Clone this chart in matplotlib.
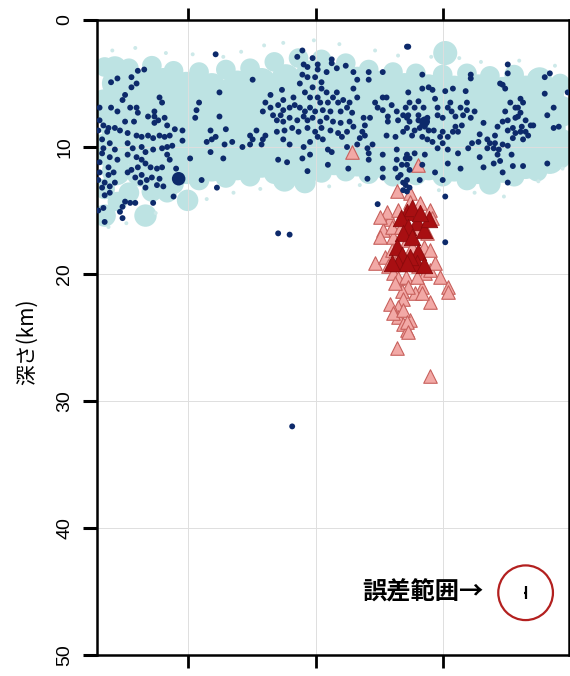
import matplotlib.pyplot as plt
import numpy as np

# hypocentres (x: distance along profile [km], depth [km])
west = np.array([
    (9.3, 2.7), (12.2, 4.7), (3.7, 3.9), (3.2, 4.0), (2.7, 4.5), (3.1, 5.0), (2.7, 5.3),
    (1.6, 4.6), (1.1, 4.9), (2.2, 5.9), (2.0, 6.3), (4.9, 6.1), (5.1, 6.5), (8.0, 6.5),
    (9.6, 5.7), (0.2, 6.9), (1.1, 6.9), (1.6, 7.2), (2.6, 6.9), (3.1, 6.9), (3.2, 7.3),
    (4.5, 7.2), (4.5, 7.6), (4.8, 7.9), (5.3, 7.7), (7.8, 7.1), (7.7, 7.7), (9.6, 7.6),
    (0.2, 7.9), (0.5, 8.3), (0.9, 8.5), (2.2, 8.0), (2.9, 8.0), (4.0, 7.6), (4.5, 8.1),
    (5.5, 8.3), (0.1, 8.7), (0.8, 8.8), (1.4, 8.5), (1.8, 8.7), (2.4, 8.9), (3.1, 9.1),
    (3.5, 9.2), (4.0, 9.1), (4.4, 9.3), (4.9, 9.1), (5.3, 9.2), (5.7, 9.1), (6.1, 8.6),
    (6.7, 8.7), (6.7, 9.5), (8.9, 8.7), (9.3, 9.2), (10.1, 8.6), (10.6, 9.6), (10.0, 9.8),
    (12.0, 9.1), (12.0, 9.8), (11.4, 10.0), (9.0, 9.4), (8.6, 9.6), (0.4, 9.4), (1.0, 9.7),
    (0.5, 10.1), (1.4, 10.2), (2.4, 9.7), (2.8, 10.1), (3.5, 10.0), (3.8, 10.4), (4.4, 10.2),
    (5.1, 10.1), (5.5, 10.0), (5.9, 9.9), (5.5, 10.6), (5.7, 11.0), (0.4, 10.5), (1.0, 10.8),
    (1.6, 11.0), (0.2, 11.2), (0.9, 11.6), (2.4, 10.6), (3.1, 10.8), (3.5, 11.0), (3.8, 11.3),
    (4.2, 11.6), (3.2, 11.6), (2.7, 11.8), (4.7, 11.7), (5.1, 11.6), (7.3, 10.9), (8.9, 10.4),
    (9.9, 10.9), (6.2, 11.7), (0.2, 12.0), (0.9, 12.2), (1.3, 12.0), (0.1, 12.6), (0.6, 12.8),
    (1.4, 12.8), (0.4, 13.2), (1.0, 13.1), (2.4, 12.0), (3.0, 12.4), (3.5, 12.2), (3.9, 12.6),
    (4.3, 12.4), (3.4, 12.8), (3.8, 13.2), (4.7, 13.0), (5.2, 13.1), (4.9, 12.5), (8.2, 12.6),
    (9.4, 13.2), (6.0, 13.9), (0.6, 13.8), (1.0, 13.6), (2.2, 14.3), (2.6, 14.4), (3.0, 14.4),
    (4.4, 14.4), (2.0, 14.7), (0.1, 15.0), (0.5, 14.8), (1.8, 15.1), (0.6, 15.9), (2.0, 15.6),
])

central = np.array([
    (16.1, 2.4), (15.7, 2.9), (16.9, 3.0), (18.4, 3.1), (18.4, 3.4), (16.2, 3.5), (16.5, 3.7),
    (17.3, 3.5), (17.3, 3.9), (18.0, 4.1), (18.8, 3.8), (19.5, 3.6), (20.1, 4.1), (21.3, 4.1),
    (22.4, 4.1), (24.3, 2.1), (16.1, 4.3), (16.5, 4.5), (17.1, 4.5), (17.6, 4.9), (15.9, 5.0),
    (16.9, 5.3), (17.6, 5.4), (18.0, 5.7), (20.4, 4.7), (21.3, 4.7), (20.1, 5.4), (20.4, 6.1),
    (18.8, 5.7), (13.6, 5.9), (14.5, 5.5), (14.6, 6.3), (15.4, 6.1), (16.3, 5.7), (16.7, 6.1),
    (17.3, 6.1), (17.5, 6.5), (18.1, 6.5), (18.5, 6.1), (18.9, 6.5), (19.3, 6.3), (19.8, 6.5),
    (19.6, 6.9), (21.8, 6.5), (22.4, 6.1), (22.7, 6.1), (22.0, 6.9), (22.4, 7.1), (23.1, 6.7),
    (22.8, 7.6), (23.5, 7.2), (24.2, 6.9), (24.0, 7.5), (13.2, 6.5), (13.6, 6.9), (13.0, 7.2),
    (13.8, 7.5), (14.2, 6.7), (14.6, 7.1), (14.4, 7.5), (15.1, 6.9), (15.5, 6.7), (15.9, 6.9),
    (16.3, 7.2), (16.7, 6.9), (17.1, 7.2), (17.7, 7.1), (18.3, 7.2), (19.1, 7.2), (20.0, 7.3),
    (20.9, 7.7), (21.4, 7.7), (14.1, 7.9), (14.6, 8.0), (15.1, 7.7), (15.7, 7.9), (16.2, 7.6),
    (16.5, 7.9), (16.9, 7.7), (17.5, 8.0), (18.0, 7.7), (18.5, 8.0), (19.1, 8.1), (19.8, 8.0),
    (20.1, 8.4), (21.0, 8.3), (22.8, 8.0), (23.6, 7.9), (24.3, 7.7), (12.5, 8.7), (13.2, 9.1),
    (14.1, 8.8), (14.7, 8.7), (15.3, 8.5), (15.8, 8.8), (16.5, 8.5), (17.1, 8.8), (17.6, 8.5),
    (18.3, 8.7), (18.9, 8.9), (19.6, 8.8), (19.2, 9.2), (20.6, 9.3), (21.0, 9.1), (22.7, 9.1),
    (23.4, 9.2), (24.0, 8.8), (12.2, 9.4), (13.0, 9.4), (12.9, 9.8), (14.6, 9.4), (15.1, 9.8),
    (16.2, 10.0), (16.7, 9.6), (17.3, 9.2), (17.7, 9.4), (18.1, 10.2), (18.4, 10.4), (19.6, 10.0),
    (20.4, 9.8), (21.2, 10.1), (23.5, 10.2), (16.1, 10.9), (16.7, 10.6), (18.1, 11.4), (19.7, 11.7),
    (21.3, 10.5), (21.3, 11.0), (14.2, 11.0), (14.9, 11.2), (16.5, 11.9), (21.2, 12.5), (22.4, 11.7),
    (22.4, 12.4), (23.5, 11.0), (23.9, 11.4), (24.2, 10.9), (23.6, 12.4), (24.0, 12.8), (22.0, 14.5),
    (24.3, 12.6), (24.2, 13.0), (24.3, 13.5), (24.0, 13.4), (24.5, 13.2), (23.8, 12.2), (24.5, 11.8),
    (23.4, 11.7), (20.8, 8.8), (21.6, 9.8), (22.4, 10.6),
])

east = np.array([
    (24.4, 2.1), (32.2, 3.5), (32.2, 4.2), (29.3, 4.3), (29.3, 4.6), (35.1, 4.5), (35.5, 4.2),
    (25.5, 4.3), (31.6, 5.0), (31.8, 5.1), (32.0, 5.4), (26.0, 5.3), (25.5, 5.4), (26.3, 5.5),
    (27.3, 5.6), (27.9, 5.4), (28.9, 5.6), (24.4, 5.7), (36.9, 5.7), (35.1, 5.8), (26.5, 6.2),
    (27.7, 6.5), (29.0, 6.5), (33.2, 6.2), (33.4, 6.5), (32.4, 6.5), (35.8, 6.9), (24.5, 6.5),
    (25.2, 6.4), (24.9, 6.9), (25.6, 6.9), (26.7, 6.9), (27.5, 6.9), (27.8, 7.2), (28.5, 6.9),
    (29.0, 7.1), (29.6, 7.2), (32.0, 7.2), (32.8, 6.9), (33.0, 6.9), (33.2, 7.3), (35.3, 7.5),
    (24.4, 7.5), (24.5, 8.0), (25.2, 7.9), (26.7, 7.5), (27.1, 7.7), (28.1, 7.6), (28.7, 7.5),
    (29.3, 7.7), (30.3, 8.1), (31.4, 8.4), (31.8, 8.0), (32.2, 7.9), (32.8, 7.7), (33.0, 7.6),
    (33.6, 7.9), (34.0, 8.3), (34.2, 8.3), (32.6, 8.5), (33.3, 8.4), (35.8, 8.5), (36.2, 8.4),
    (24.3, 8.5), (24.9, 8.7), (25.7, 8.4), (26.4, 8.7), (27.1, 8.8), (28.1, 8.4), (28.6, 8.3),
    (27.5, 9.2), (27.9, 8.8), (28.3, 8.8), (30.0, 9.0), (31.2, 9.1), (32.2, 8.7), (32.8, 8.9),
    (33.2, 8.8), (33.6, 8.8), (33.8, 9.1), (32.6, 9.3), (33.4, 9.4), (24.7, 9.1), (25.5, 9.2),
    (25.9, 9.4), (26.3, 9.6), (26.7, 10.1), (27.1, 9.7), (27.5, 10.2), (26.9, 9.2), (29.4, 9.7),
    (29.9, 9.6), (30.6, 9.4), (30.8, 9.7), (31.2, 9.7), (31.8, 9.8), (32.2, 9.9), (30.6, 10.1),
    (31.1, 10.1), (31.5, 10.2), (29.1, 10.1), (31.4, 10.6), (24.3, 10.6), (24.9, 10.5), (24.5, 10.9),
    (25.7, 10.6), (28.3, 10.5), (30.0, 10.8), (32.5, 10.6), (24.3, 11.4), (25.5, 11.4), (27.5, 11.3),
    (28.5, 11.7), (30.3, 11.6), (31.1, 11.3), (31.6, 11.1), (32.6, 11.5), (33.4, 11.5), (35.3, 11.3),
    (31.8, 12.0), (32.2, 12.8), (26.5, 12.0), (27.1, 12.6), (25.3, 12.6), (27.3, 13.9),
    (25.2, 7.5), (26.0, 8.7), (25.3, 8.5), (25.9, 7.7), (25.5, 8.2),
])

# scattered deeper events
deep = np.array([(14.2, 16.8), (15.1, 16.9), (15.3, 32.0), (27.3, 17.5)])

# larger events plotted with bigger dots
big_x = [6.4, 25.7]
big_d = [12.5, 8.0]
big_s = [95, 55]

# triangles: lower-crust events (light) and the main swarm (dark)
tri_light = np.array([
    (20.0, 10.4), (25.2, 11.4), (23.5, 13.5), (24.5, 13.6), (26.1, 15.0), (23.0, 15.7),
    (22.4, 16.5), (22.2, 17.1), (26.3, 15.6), (21.8, 19.1), (22.6, 18.7), (23.1, 18.1),
    (22.8, 19.4), (23.2, 19.9), (23.6, 20.3), (24.2, 20.2), (25.2, 19.4), (25.7, 19.9),
    (26.1, 19.7), (26.5, 19.1), (26.9, 20.2), (27.5, 21.0), (25.5, 21.0), (26.1, 22.2),
    (24.9, 21.5), (24.4, 21.0), (23.9, 21.3), (23.4, 20.7), (24.0, 22.0), (23.6, 22.6),
    (23.6, 23.4), (24.0, 23.9), (24.5, 23.6), (24.3, 24.4), (23.5, 25.8), (25.6, 17.9),
    (25.9, 16.8), (25.2, 16.5), (26.1, 18.1), (23.2, 17.1), (23.1, 16.3), (22.7, 15.1),
    (23.6, 15.0), (24.5, 14.3), (25.3, 14.4), (22.2, 15.5), (23.8, 16.3), (24.3, 17.3),
    (24.7, 17.9), (23.8, 18.3), (23.8, 19.1), (24.7, 18.9), (25.1, 20.2), (23.0, 22.4),
    (23.2, 23.1), (26.1, 28.0), (24.0, 22.8), (24.3, 23.8), (24.4, 24.6), (25.5, 21.5),
    (27.5, 21.4),
])
tri_dark = np.array([
    (24.3, 15.1), (24.7, 14.8), (23.8, 15.6), (25.1, 15.9), (25.6, 16.5), (26.0, 15.7),
    (24.4, 16.3), (24.0, 16.8), (24.7, 17.1), (23.5, 17.9), (23.9, 18.5), (23.6, 19.1),
    (25.2, 18.3), (25.1, 19.1), (25.6, 19.3), (24.5, 18.7), (24.3, 19.1), (23.1, 19.1),
    (25.3, 15.2),
])

# background seismicity (longer catalogue), laid out in staggered rows
bg_xa = [0.6, 2.5, 4.3, 6.0, 8.0, 10.1, 12.0, 13.9, 15.8, 17.6, 19.5, 21.3, 23.2, 25.0,
         27.1, 29.0, 30.8, 32.7, 34.5, 36.3]
bg_xb = [1.5, 3.4, 5.2, 7.0, 9.0, 11.0, 12.9, 14.8, 16.7, 18.6, 20.4, 22.3, 24.1, 26.0,
         28.0, 29.9, 31.8, 33.6, 35.5]
bg_rows = [
    # (x set, depths, marker size)
    ("a", [3.7, 3.8, 3.6, 4.0, 4.1, 3.9, 3.8, 3.3, 3.0, 3.1, 3.4, 3.9, 4.1, 4.2, 4.3, 4.2,
           4.4, 4.3, 4.6, 5.0], 200),
    ("b", [5.0, 5.1, 4.9, 5.2, 5.3, 5.1, 4.9, 4.6, 4.3, 4.5, 4.8, 5.1, 5.3, 5.4, 5.5, 5.4,
           5.6, 5.5, 5.8], 420),
    ("a", [6.7, 6.6, 6.8, 6.7, 6.9, 6.6, 6.5, 6.3, 6.1, 6.3, 6.5, 6.7, 6.8, 6.9, 7.0, 6.9,
           7.0, 6.8, 7.0, 7.2], 520),
    ("b", [8.4, 8.3, 8.5, 8.4, 8.6, 8.4, 8.2, 8.0, 7.9, 8.1, 8.3, 8.4, 8.6, 8.5, 8.6, 8.7,
           8.5, 8.6, 8.5], 520),
    ("a", [10.2, 10.1, 10.3, 10.2, 10.1, 10.0, 9.9, 9.8, 9.7, 9.8, 10.0, 10.1, 10.2, 10.1,
           10.3, 10.4, 10.2, 10.3, 10.1, 9.8], 520),
    ("b", [11.9, 12.0, 12.1, 11.8, 11.6, 11.5, 11.3, 11.2, 11.2, 11.1, 11.2, 11.3, 11.4,
           11.5, 11.6, 11.8, 11.7, 11.4, 11.0], 420),
    ("a", [13.3, 13.6, 13.5, 12.9, 12.6, 12.4, 12.3, 12.1, 12.2, 12.0, 11.9, 12.1, 12.3,
           12.2, 12.3, 12.6, 12.5, 12.3, 11.9, 10.9], 220),
]
# a few larger background events
bg_big_x = [0.6, 3.8, 7.1, 14.7, 16.3, 30.8, 1.4, 27.3, 34.7, 1.6, 5.5]
bg_big_d = [15.4, 15.4, 14.2, 12.6, 12.8, 12.9, 3.8, 2.6, 4.7, 14.3, 13.6]
bg_big_s = [260, 260, 240, 280, 240, 240, 300, 300, 320, 200, 200]
# sparse small background events at the band margins
bg_fine_x = [1.2, 3.0, 5.4, 7.5, 9.9, 11.3, 13.1, 14.6, 17.0, 19.0, 21.8, 23.6, 26.2,
             28.4, 30.1, 33.1, 35.9, 0.9, 4.6, 8.6, 10.7, 12.8, 18.2, 20.6, 26.8, 29.6,
             31.9, 34.6, 36.5, 2.3]
bg_fine_d = [2.4, 2.2, 2.6, 2.7, 2.9, 2.5, 2.0, 1.8, 1.6, 1.9, 2.4, 2.8, 2.9, 3.0,
             3.3, 3.2, 3.6, 16.3, 15.2, 14.1, 13.6, 13.3, 13.1, 13.0, 13.4, 13.6,
             13.9, 12.7, 11.7, 16.0]

# location error shown at the lower right
err_x, err_d = 33.6, 45.1
err_dx, err_dd = 0.12, 0.5

xtick_pos = [7.14, 17.14, 27.14]
depth_ticks = [0, 10, 20, 30, 40, 50]

fig = plt.figure(figsize=(5.7, 6.76), dpi=100)
ax = fig.add_axes([0.1702, 0.0311, 0.828, 0.9393])

bg_color = "#bde3e3"
for which, depths, size in bg_rows:
    xs = bg_xa if which == "a" else bg_xb
    ax.scatter(xs, depths, s=size, color=bg_color, edgecolors="none", zorder=1)
ax.scatter(bg_big_x, bg_big_d, s=bg_big_s, color=bg_color, edgecolors="none", zorder=1)
ax.scatter(bg_fine_x, bg_fine_d, s=8, color="#cde9e9", edgecolors="none", zorder=1)

ax.scatter(tri_light[:, 0], tri_light[:, 1], marker="^", s=95,
           facecolor="#f2a9a6", edgecolor="#c8605c", linewidths=0.8, zorder=3)
ax.scatter(tri_dark[:, 0], tri_dark[:, 1], marker="^", s=140,
           facecolor="#a80f12", edgecolor="#8c0a0c", linewidths=0.6, zorder=4)

dot_color = "#0d2a6b"
for pts in (west, central, east, deep):
    ax.scatter(pts[:, 0], pts[:, 1], s=18, color=dot_color,
               edgecolors="none", zorder=5)
ax.scatter(big_x, big_d, s=big_s, color=dot_color, edgecolors="none", zorder=5)

# error range marker
ax.errorbar(err_x, err_d, xerr=err_dx, yerr=err_dd, fmt="none",
            ecolor="black", elinewidth=1.6, capsize=0, zorder=6)
ax.scatter([err_x], [err_d], s=1550, facecolors="none",
           edgecolors="#b3201f", linewidths=1.6, zorder=6)
ax.text(30.3, err_d, "誤差範囲→", ha="right", va="center", fontsize=17.5,
        fontweight="bold", family=["Noto Sans CJK JP", "DejaVu Sans"], zorder=6)

ax.set_xlim(0, 37.0)
ax.set_ylim(50, 0)
ax.set_xticks(xtick_pos)
ax.set_yticks(depth_ticks)
ax.grid(True, color="#dedede", linewidth=0.7)
ax.set_axisbelow("line")

ax.tick_params(axis="x", top=True, bottom=True, labelbottom=False,
               direction="out", length=9, width=2)
ax.tick_params(axis="y", left=True, direction="out", length=10, width=2.2,
               labelsize=14, labelrotation=90, pad=7)
for lbl in ax.get_yticklabels():
    lbl.set_family(["Liberation Sans", "DejaVu Sans"])
    lbl.set_va("center")

for sp in ax.spines.values():
    sp.set_linewidth(1.8)

ax.set_ylabel("深さ(km)", fontsize=15, family=["Noto Sans CJK JP", "DejaVu Sans"])
ax.yaxis.set_label_coords(-0.125, 0.493)

fig.savefig("out.png", dpi=100)
